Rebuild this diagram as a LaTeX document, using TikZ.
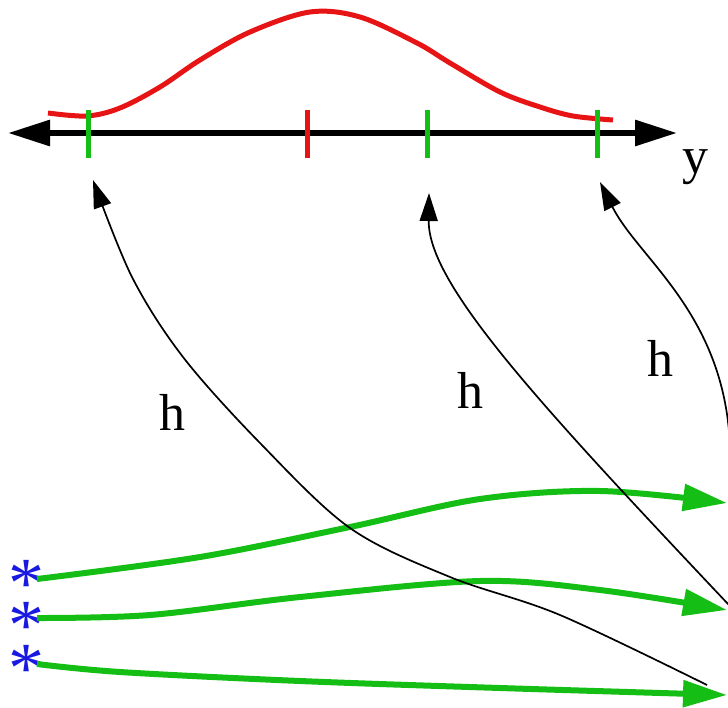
\documentclass[tikz,border=0pt]{standalone}
\usepackage{fontspec}
\setmainfont{Liberation Serif}
\usetikzlibrary{arrows.meta}
\definecolor{fgreen}{RGB}{20,190,20}
\definecolor{fred}{RGB}{230,20,20}
\definecolor{fblue}{RGB}{25,25,225}
\newcommand{\particlemark}{\raisebox{-0.5em}[0.19em][0.19em]{*}}
\begin{document}
\begin{tikzpicture}[x=1pt,y=-1pt,
  axis/.style={line width=6pt,{Triangle[length=42pt,width=25pt]}-{Triangle[length=42pt,width=25pt]}},
  tickmark/.style={line width=5pt},
  mapping/.style={line width=1.7pt,-{Triangle[length=28pt,width=18pt]}},
  flow/.style={fgreen,line width=6pt,-{Triangle[length=44pt,width=26pt]}},
  lab/.style={font=\fontsize{52}{52}\selectfont,inner sep=0pt},
  ast/.style={text=fblue,font=\fontsize{72}{72}\selectfont,inner sep=0pt}]
\useasboundingbox (0,0) rectangle (728,707);
\clip (0,0) rectangle (728,707);
% axis
\coordinate (axL) at (8,133);
\coordinate (axR) at (677,133);
\draw[axis] (axL) -- (axR);
\node[lab] (ylab) at (695,167) {y};
% density
\draw[fred,line width=5pt] plot[smooth,tension=0.55] coordinates
  {(48,113) (87,116) (120,108) (160,87) (200,60) (250,32) (310,12) (360,17) (417,43) (450,63) (500,92) (540,107) (573,116) (613,120)};
% ticks
\coordinate (k1) at (88,110);  \coordinate (k1b) at (88,158);
\coordinate (k2) at (307,110); \coordinate (k2b) at (307,158);
\coordinate (k3) at (427,110); \coordinate (k3b) at (427,158);
\coordinate (k4) at (597,110); \coordinate (k4b) at (597,158);
\draw[tickmark,fgreen] (k1) -- (k1b);
\draw[tickmark,fred] (k2) -- (k2b);
\draw[tickmark,fgreen] (k3) -- (k3b);
\draw[tickmark,fgreen] (k4) -- (k4b);
% particles
\node[ast] (s1) at (27,571) {\particlemark};
\node[ast] (s2) at (27,613) {\particlemark};
\node[ast] (s3) at (27,656) {\particlemark};
% green flows
\draw[flow] plot[smooth,tension=0.55] coordinates
  {(37,579) (200,557) (350,527) (480,499) (600,491) (727,503)};
\draw[flow] plot[smooth,tension=0.55] coordinates
  {(37,618) (150,615) (300,597) (480,581) (600,590) (727,610)};
\draw[flow] plot[smooth,tension=0.55] coordinates
  {(37,664) (120,672) (300,681) (500,688) (727,695)};
% h mappings
\coordinate (t1) at (93,180);
\coordinate (t2) at (429,193);
\coordinate (t3) at (600,182);
\coordinate (c1) at (707,685);
\coordinate (c2) at (745,622);
\coordinate (c3) at (730,470);
\draw[mapping] plot[smooth,tension=0.55] coordinates
  {(c1) (560,615) (450,577) (350,528) (260,443) (183,357) (132,277) (t1)};
\draw[mapping] (c2) .. controls (540,405) and (428,285) .. (t2);
\draw[mapping] (c3) .. controls (735,320) and (640,262) .. (t3);
\node[lab] (h1) at (172,412) {h};
\node[lab] (h2) at (470,390) {h};
\node[lab] (h3) at (660,358) {h};
\end{tikzpicture}
\end{document}
